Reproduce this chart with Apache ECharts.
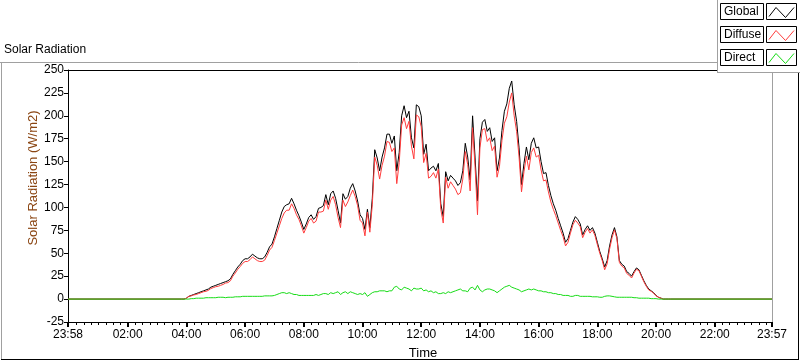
<!DOCTYPE html>
<html>
<head>
<meta charset="utf-8">
<script src="https://cdn.jsdelivr.net/npm/echarts@6/dist/echarts.min.js"></script>
<style>
  html, body { margin: 0; padding: 0; background: #fff; }
  #chart { width: 800px; height: 361px; }
</style>
</head>
<body>
<div id="chart"></div>
<script>
// x in minutes after midnight; axis runs 23:58 (prev day) .. 23:57
const AXIS_MIN = -2;
const AXIS_MAX = 1437;
// daytime readings every 5 minutes from 03:50
const TIME_START = 230;
const TIME_STEP = 5;

// Global (W/m2)
const globalRad = [
  0, 0,
  1, 3, 4, 5, 6, 7, 8, 9, 10, 11, 13, 14,                      // 04
  15, 16, 17, 18, 19, 20, 22, 27, 31, 35, 38, 42,              // 05
  44, 44, 46, 49, 47, 45, 44, 44, 46, 51, 57, 60,              // 06
  68, 77, 86, 95, 101, 103, 104, 110, 104, 97, 91, 84,         // 07
  76, 82, 89, 92, 87, 90, 99, 100, 102, 114, 103, 115,         // 08
  118, 110, 97, 83, 115, 109, 112, 121, 126, 118, 107, 92,     // 09
  88, 76, 98, 78, 110, 163, 154, 140, 155, 165, 180, 180,      // 10
  170, 178, 140, 160, 200, 211, 198, 205, 176, 165, 212, 210,  // 11
  200, 158, 169, 140, 143, 145, 140, 148, 104, 90, 139, 129,   // 12
  135, 132, 129, 124, 127, 140, 170, 155, 130, 200, 155, 107,  // 13
  175, 193, 196, 183, 187, 172, 176, 140, 154, 184, 205, 213,  // 14
  230, 238, 212, 194, 165, 125, 148, 166, 152, 170, 176, 165,  // 15
  166, 150, 137, 138, 124, 113, 104, 97, 88, 80, 72, 62,       // 16
  66, 75, 84, 90, 87, 82, 70, 76, 80, 75, 78, 72,              // 17
  62, 52, 44, 35, 42, 58, 70, 78, 68, 42, 38, 36,              // 18
  30, 28, 25, 30, 34, 32, 26, 20, 15, 11, 9, 7,                // 19
  4, 2, 1, 0, 0, 0, 0                                          // 20
];

// Diffuse (W/m2)
const diffuseRad = [
  0, 0,
  1, 3, 3.5, 4.5, 5, 6, 7, 8, 8.5, 9.5, 11.5, 12.5,
  13.5, 14, 15, 16, 17.5, 18, 20, 25, 28.5, 32.5, 35.5, 39,
  41, 41, 43, 46, 44, 42, 41, 41, 42.5, 47.5, 53.5, 56.5,
  64, 72, 80, 88, 94, 97, 97, 104, 99, 92, 87, 80,
  72, 78, 85, 88, 83, 85, 95, 95, 96, 108, 98, 108,
  112, 103, 89, 78, 108, 101, 106, 113, 119, 112, 102, 86,
  83, 69, 95, 73, 103, 155, 146, 131, 146, 156, 172, 171,
  161, 165, 126, 149, 190, 198, 186, 194, 167, 153, 201, 199,
  188, 149, 159, 132, 134, 138, 132, 142, 98, 83, 133, 121,
  128, 124, 120, 114, 116, 131, 161, 147, 118, 187, 145, 92,
  165, 185, 186, 172, 176, 162, 167, 133, 145, 173, 192, 199,
  215, 225, 200, 183, 155, 117, 139, 156, 141, 160, 165, 155,
  157, 141, 129, 130, 117, 106, 98, 91, 83, 75, 68, 58,
  62, 72, 81, 86, 83, 79, 67, 73, 77, 72, 75.5, 69.5,
  59.5, 50, 42, 32, 38.5, 54.5, 67, 75.5, 66, 40, 36, 34,
  28, 26, 23, 28.5, 32.5, 31, 25, 19, 14, 10, 8.5, 6.5,
  3.5, 2, 1, 0, 0, 0, 0
];

// Direct (W/m2)
const directRad = [
  0, 0,
  0, 0, 0.5, 0.5, 1, 1, 1, 1, 1.5, 1.5, 1.5, 1.5,
  1.5, 2, 2, 2, 1.5, 2, 2, 2, 2.5, 2.5, 2.5, 3,
  3, 3, 3, 3, 3, 3, 3, 3, 3.5, 3.5, 3.5, 3.5,
  4, 5, 6, 7, 7, 6, 7, 6, 5, 5, 4, 4,
  4, 4, 4, 4, 4, 5, 4, 5, 6, 6, 5, 7,
  6, 7, 8, 5, 7, 8, 6, 8, 7, 6, 5, 6,
  5, 7, 3, 5, 7, 8, 8, 9, 9, 9, 8, 9,
  9, 13, 14, 11, 10, 13, 12, 11, 9, 12, 11, 11,
  12, 9, 10, 8, 9, 7, 8, 6, 6, 7, 6, 8,
  7, 8, 9, 10, 11, 9, 9, 8, 12, 13, 10, 15,
  10, 8, 10, 11, 11, 10, 9, 7, 9, 11, 13, 14,
  15, 13, 12, 11, 10, 8, 9, 10, 11, 10, 11, 10,
  9, 9, 8, 8, 7, 7, 6, 6, 5, 5, 4, 4,
  4, 3, 3, 4, 4, 3, 3, 3, 3, 3, 2.5, 2.5,
  2.5, 2, 2, 3, 3.5, 3.5, 3, 2.5, 2, 2, 2, 2,
  2, 2, 2, 1.5, 1.5, 1, 1, 1, 1, 1, 0.5, 0.5,
  0.5, 0, 0, 0, 0, 0, 0
];

const seriesNames = ['Global', 'Diffuse', 'Direct'];
const seriesColors = ['#000000', '#ff3c3c', '#16dc16'];
const majorTicks = [-2, 120, 240, 360, 480, 600, 720, 840, 960, 1080, 1200, 1320, 1437];

const FONT = '"Liberation Sans", Arial, sans-serif';

function pad(n) { return (n < 10 ? '0' : '') + n; }

function toPoints(values) {
  const pts = [[AXIS_MIN, 0]];
  values.forEach((v, i) => pts.push([TIME_START + i * TIME_STEP, v]));
  pts.push([AXIS_MAX, 0]);
  return pts;
}

const minorTicks = [];
for (let m = 15; m < AXIS_MAX; m += 15) {
  if (m % 120 !== 0) minorTicks.push(m);
}

const chart = echarts.init(document.getElementById('chart'), null, { renderer: 'canvas' });

// legend drawn like the instrument panel boxes
const legendGraphics = [
  { type: 'rect', shape: { x: 717, y: 0, width: 83, height: 72 }, style: { fill: '#fff', stroke: null }, z: 100 },
  { type: 'line', shape: { x1: 717.5, y1: 0, x2: 717.5, y2: 72 }, style: { stroke: '#a0a0a0', lineWidth: 1 }, z: 101 },
  { type: 'line', shape: { x1: 717, y1: 72.5, x2: 800, y2: 72.5 }, style: { stroke: '#a0a0a0', lineWidth: 1 }, z: 101 }
];
seriesNames.forEach((name, i) => {
  const top = 3.5 + i * 23;
  legendGraphics.push(
    { type: 'rect', shape: { x: 720.5, y: top, width: 43, height: 16 }, style: { fill: '#fff', stroke: '#000', lineWidth: 1 }, z: 102 },
    { type: 'text', x: 724, y: top + 8.5, style: { text: name, fill: '#000', font: '12px ' + FONT, align: 'left', verticalAlign: 'middle' }, z: 103 },
    { type: 'rect', shape: { x: 766.5, y: top, width: 30, height: 16 }, style: { fill: '#fff', stroke: '#000', lineWidth: 1 }, z: 102 },
    { type: 'polyline', shape: { points: [[769, top + 13], [776, top + 4], [785.5, top + 14], [794, top + 4]] },
      style: { stroke: seriesColors[i], lineWidth: 1, fill: null }, z: 103 }
  );
});

const baseGraphics = [
  // outer panel frame
  { type: 'line', shape: { x1: 0, y1: 62.5, x2: 717, y2: 62.5 }, style: { stroke: '#a0a0a0', lineWidth: 1 } },
  { type: 'line', shape: { x1: 1.5, y1: 62.5, x2: 1.5, y2: 359 }, style: { stroke: '#a0a0a0', lineWidth: 1 } },
  { type: 'line', shape: { x1: 1, y1: 359.5, x2: 799, y2: 359.5 }, style: { stroke: '#000', lineWidth: 1 } },
  { type: 'line', shape: { x1: 798.5, y1: 72, x2: 798.5, y2: 360 }, style: { stroke: '#000', lineWidth: 1 } },
  // plot frame top and right
  { type: 'line', shape: { x1: 68, y1: 70.5, x2: 772, y2: 70.5 }, style: { stroke: '#000', lineWidth: 1 } },
  { type: 'line', shape: { x1: 772.5, y1: 70, x2: 772.5, y2: 322 }, style: { stroke: '#a0a0a0', lineWidth: 1 } },
  // titles
  { type: 'text', x: 4, y: 50, style: { text: 'Solar Radiation', fill: '#000', font: '12px ' + FONT, align: 'left', verticalAlign: 'middle' } },
  { type: 'text', x: 33, y: 178, rotation: Math.PI / 2,
    style: { text: 'Solar Radiation (W/m2)', fill: '#8a4512', font: '13px ' + FONT, align: 'center', verticalAlign: 'middle' } },
  { type: 'text', x: 423, y: 353, style: { text: 'Time', fill: '#000', font: '13px ' + FONT, align: 'center', verticalAlign: 'middle' } }
].concat(legendGraphics);

const option = {
  animation: false,
  backgroundColor: '#fff',
  grid: { left: 68, right: 28, top: 70, bottom: 39, outerBoundsMode: 'none' },
  xAxis: {
    type: 'value',
    min: AXIS_MIN,
    max: AXIS_MAX,
    position: 'bottom',
    axisLine: { show: true, onZero: false, lineStyle: { color: '#000', width: 1 } },
    axisTick: { show: true, length: 5, customValues: majorTicks, lineStyle: { color: '#000', width: 2 } },
    axisLabel: {
      customValues: majorTicks,
      color: '#000',
      fontFamily: FONT,
      fontSize: 12,
      margin: 7,
      formatter: v => v === AXIS_MIN ? '23:58' : v === AXIS_MAX ? '23:57' : pad(Math.round(v / 60)) + ':00'
    },
    splitLine: { show: false }
  },
  yAxis: {
    type: 'value',
    min: -25,
    max: 250,
    interval: 25,
    axisLine: { show: true, onZero: false, lineStyle: { color: '#000', width: 1 } },
    axisTick: { show: true, length: 4, lineStyle: { color: '#000' } },
    axisLabel: { color: '#000', fontFamily: FONT, fontSize: 12, margin: 4 },
    splitLine: { show: false }
  },
  series: seriesNames.map((name, i) => ({
    name,
    type: 'line',
    data: toPoints([globalRad, diffuseRad, directRad][i]),
    showSymbol: false,
    symbol: 'none',
    lineStyle: { color: seriesColors[i], width: 1 },
    z: 2 + i
  })),
  graphic: baseGraphics
};

chart.setOption(option);

// 15-minute minor ticks placed through the x axis scale
const axisY = chart.convertToPixel({ yAxisIndex: 0 }, -25);
const minorTickLines = minorTicks.map(m => {
  const px = Math.round(chart.convertToPixel({ xAxisIndex: 0 }, m)) + 0.5;
  return { type: 'line', shape: { x1: px, y1: axisY, x2: px, y2: axisY + 3 }, style: { stroke: '#000', lineWidth: 1 } };
});
chart.setOption({ graphic: baseGraphics.concat(minorTickLines) });
</script>
</body>
</html>
